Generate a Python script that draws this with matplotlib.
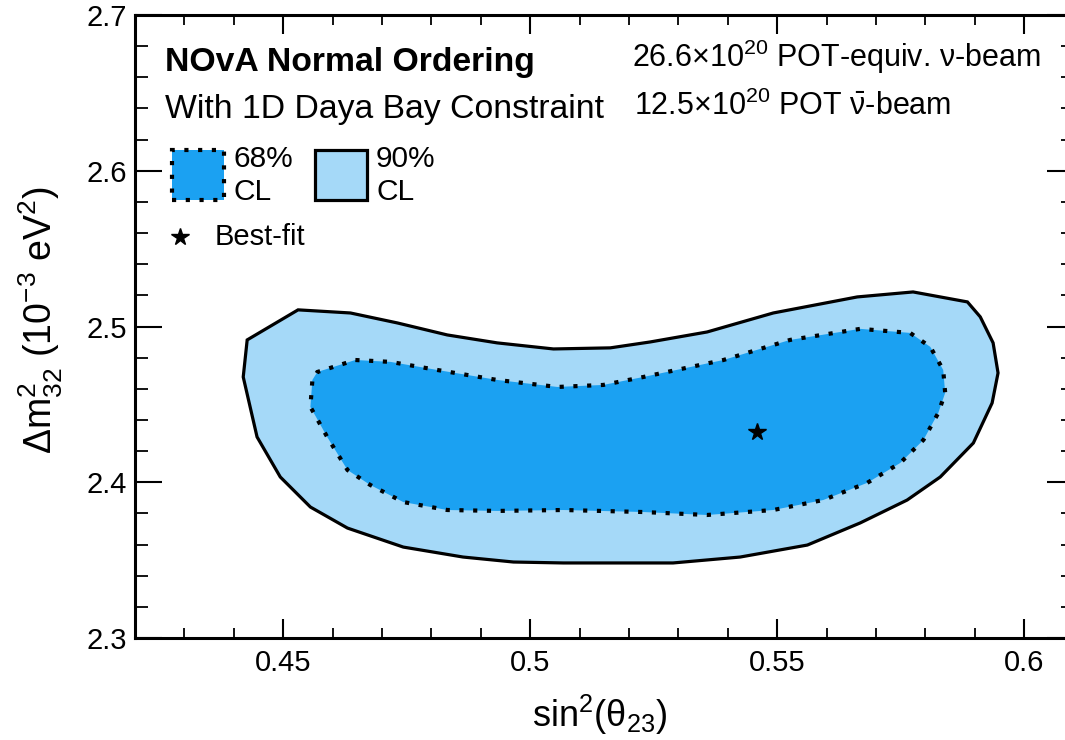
import matplotlib
matplotlib.use("Agg")
import matplotlib.pyplot as plt
from matplotlib.patches import Rectangle
from matplotlib.ticker import MultipleLocator

plt.rcParams['font.family'] = ['Liberation Sans', 'DejaVu Sans']
plt.rcParams['mathtext.fontset'] = 'custom'
plt.rcParams['mathtext.rm'] = 'Liberation Sans'
plt.rcParams['mathtext.it'] = 'Liberation Sans'
plt.rcParams['mathtext.bf'] = 'Liberation Sans:bold'

# 90% CL contour (sin^2 theta23, dm2_32 in 1e-3 eV^2)
cl90_x = [0.4530, 0.4636, 0.4731, 0.4832, 0.4933, 0.5047, 0.5162, 0.5243, 0.5358,
          0.5492, 0.5662, 0.5775, 0.5885, 0.5911, 0.5937, 0.5947, 0.5935, 0.5897,
          0.5830, 0.5763, 0.5668, 0.5561, 0.5425, 0.5289, 0.5067, 0.4966, 0.4864,
          0.4743, 0.4630, 0.4555, 0.4494, 0.4447, 0.4419, 0.4427]
cl90_y = [2.5107, 2.5087, 2.5023, 2.4946, 2.4895, 2.4856, 2.4863, 2.4901, 2.4965,
          2.5087, 2.5190, 2.5222, 2.5158, 2.5062, 2.4895, 2.4702, 2.4509, 2.4252,
          2.4034, 2.3886, 2.3739, 2.3597, 2.3520, 2.3482, 2.3482, 2.3488, 2.3520,
          2.3584, 2.3706, 2.3841, 2.4034, 2.4291, 2.4676, 2.4914]

# 68% CL contour
cl68_x = [0.4646, 0.4717, 0.4812, 0.4933, 0.5055, 0.5148, 0.5229, 0.5391, 0.5526,
          0.5668, 0.5769, 0.5810, 0.5836, 0.5840, 0.5826, 0.5796, 0.5749, 0.5682,
          0.5593, 0.5492, 0.5358, 0.5229, 0.5067, 0.4933, 0.4832, 0.4743, 0.4676,
          0.4630, 0.4589, 0.4555, 0.4559, 0.4569]
cl68_y = [2.4785, 2.4773, 2.4721, 2.4657, 2.4612, 2.4625, 2.4676, 2.4785, 2.4914,
          2.4985, 2.4959, 2.4869, 2.4721, 2.4574, 2.4445, 2.4272, 2.4124, 2.3996,
          2.3886, 2.3822, 2.3790, 2.3809, 2.3822, 2.3816, 2.3822, 2.3873, 2.3983,
          2.4079, 2.4291, 2.4484, 2.4657, 2.4708]

# best-fit point
best_x = [0.546]
best_y = [2.432]

x_limits = (0.42, 0.61)
y_limits = (2.3, 2.7)
x_major_ticks = [0.45, 0.5, 0.55, 0.6]
x_tick_labels = ["0.45", "0.5", "0.55", "0.6"]
y_major_ticks = [2.3, 2.4, 2.5, 2.6, 2.7]
y_tick_labels = ["2.3", "2.4", "2.5", "2.6", "2.7"]

c_inner = "#1ba1f2"
c_outer = "#a5d9f8"
dotted = (0, (1.0, 2.3))

fig = plt.figure(figsize=(10.65, 7.4), dpi=100)
ax = fig.add_axes([0.1268, 0.1378, 0.8813, 0.8419])

ax.fill(cl90_x, cl90_y, facecolor=c_outer, edgecolor="black", linewidth=2.3, zorder=2)
ax.fill(cl68_x, cl68_y, facecolor=c_inner, edgecolor="black", linewidth=3.0,
        linestyle=dotted, zorder=3)
ax.plot(best_x, best_y, marker="*", color="black", markersize=13, linestyle="none", zorder=4)

ax.set_xlim(*x_limits)
ax.set_ylim(*y_limits)
ax.set_xticks(x_major_ticks)
ax.set_xticklabels(x_tick_labels)
ax.set_yticks(y_major_ticks)
ax.set_yticklabels(y_tick_labels)
ax.xaxis.set_minor_locator(MultipleLocator(0.01))
ax.yaxis.set_minor_locator(MultipleLocator(0.02))

for s in ax.spines.values():
    s.set_linewidth(2.2)

ax.tick_params(axis="both", which="both", direction="in", top=True, right=True,
               labelsize=21, colors="black")
ax.tick_params(axis="x", which="major", length=14, width=1.5, pad=8)
ax.tick_params(axis="x", which="minor", length=7, width=1.3)
ax.tick_params(axis="y", which="major", length=19.5, width=1.5, pad=6)
ax.tick_params(axis="y", which="minor", length=9.5, width=1.3)

ax.set_xlabel(r"$\mathregular{sin^2(\theta_{23})}$", fontsize=26)
ax.set_ylabel(r"$\mathregular{\Delta m^2_{32}\ (10^{-3}\ eV^2)}$", fontsize=27)
ax.xaxis.set_label_coords(0.495, -0.088)
ax.yaxis.set_label_coords(-0.075, 0.51)

# header text
ax.text(0.032, 0.910, "NOvA Normal Ordering", transform=ax.transAxes,
        fontsize=24.3, fontweight="bold", va="baseline", ha="left")
ax.text(0.032, 0.835, "With 1D Daya Bay Constraint", transform=ax.transAxes,
        fontsize=24.3, va="baseline", ha="left")
ax.text(0.5296, 0.9165, r"26.6$\mathregular{\times10^{20}}$ POT-equiv. $\mathregular{\nu}$-beam",
        transform=ax.transAxes, fontsize=22, va="baseline", ha="left")
ax.text(0.5317, 0.8395, r"12.5$\mathregular{\times10^{20}}$ POT $\mathregular{\bar{\nu}}$-beam",
        transform=ax.transAxes, fontsize=22, va="baseline", ha="left")

# legend
ax.add_patch(Rectangle((0.0394, 0.703), 0.0554, 0.080, transform=ax.transAxes,
                       facecolor=c_inner, edgecolor="black", linewidth=3.0,
                       linestyle=dotted, zorder=5))
ax.add_patch(Rectangle((0.1918, 0.703), 0.0554, 0.080, transform=ax.transAxes,
                       facecolor=c_outer, edgecolor="black", linewidth=2.3, zorder=5))
ax.text(0.1044, 0.756, "68%", transform=ax.transAxes, fontsize=21.5, va="baseline")
ax.text(0.1044, 0.703, "CL", transform=ax.transAxes, fontsize=21.5, va="baseline")
ax.text(0.2568, 0.756, "90%", transform=ax.transAxes, fontsize=21.5, va="baseline")
ax.text(0.2568, 0.703, "CL", transform=ax.transAxes, fontsize=21.5, va="baseline")
ax.plot([0.048], [0.6437], marker="*", color="black", markersize=13,
        transform=ax.transAxes, linestyle="none")
ax.text(0.0852, 0.631, "Best-fit", transform=ax.transAxes, fontsize=21, va="baseline")

fig.savefig("out.png", dpi=100)
